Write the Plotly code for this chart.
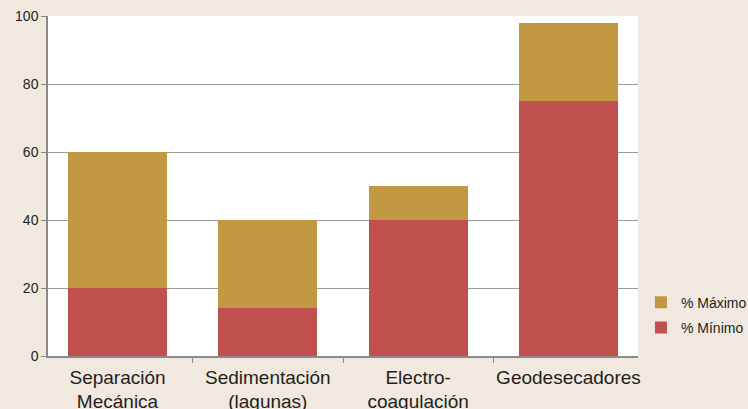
import plotly.graph_objects as go

categories = ["Separación<br>Mecánica", "Sedimentación<br>(lagunas)", "Electro-<br>coagulación", "Geodesecadores"]
minimo = [20, 14, 40, 75]
maximo_total = [60, 40, 50, 98]
maximo_extra = [t - m for t, m in zip(maximo_total, minimo)]
y_ticks = [0, 20, 40, 60, 80, 100]

fig = go.Figure()
fig.add_trace(go.Bar(x=categories, y=minimo, name="% Mínimo", marker_color="#c0504d", width=0.66,
                     marker_line_width=0, legendgroup="min", legendrank=2))
fig.add_trace(go.Bar(x=categories, y=maximo_extra, name="% Máximo", marker_color="#c39843", width=0.66,
                     marker_line_width=0, legendgroup="max", legendrank=1))

fig.update_layout(
    width=748, height=409,
    barmode="stack",
    paper_bgcolor="#f1e8df",
    plot_bgcolor="#ffffff",
    margin=dict(l=48, r=110, t=16, b=53, autoexpand=False),
    font=dict(family="Liberation Sans, Arial, sans-serif", color="#231f20"),
    legend=dict(traceorder="grouped", x=1.005, y=0.12, xanchor="left", yanchor="middle",
                font=dict(size=14), bgcolor="rgba(0,0,0,0)", itemwidth=30, tracegroupgap=4),
    showlegend=True,
)
fig.update_yaxes(range=[0, 100], tickvals=y_ticks, showgrid=True, gridcolor="#9d9d9d", gridwidth=1.2,
                 showline=True, linecolor="#8a8a8a", linewidth=1.5, ticks="outside", ticklen=5,
                 tickcolor="#8a8a8a", tickfont=dict(size=14), zeroline=False, automargin=False)
fig.update_xaxes(showline=True, linecolor="#8a8a8a", linewidth=1.5, ticks="outside", ticklen=5,
                 tickcolor="#8a8a8a", tickson="boundaries", tickfont=dict(size=19), showgrid=False,
                 tickangle=0, automargin=False, ticklabelstandoff=3, range=[-0.4625, 3.4625])

fig.write_html("out.html", config={"displayModeBar": False},
               post_script="document.body.style.margin='0';document.body.style.background='#f1e8df';")
